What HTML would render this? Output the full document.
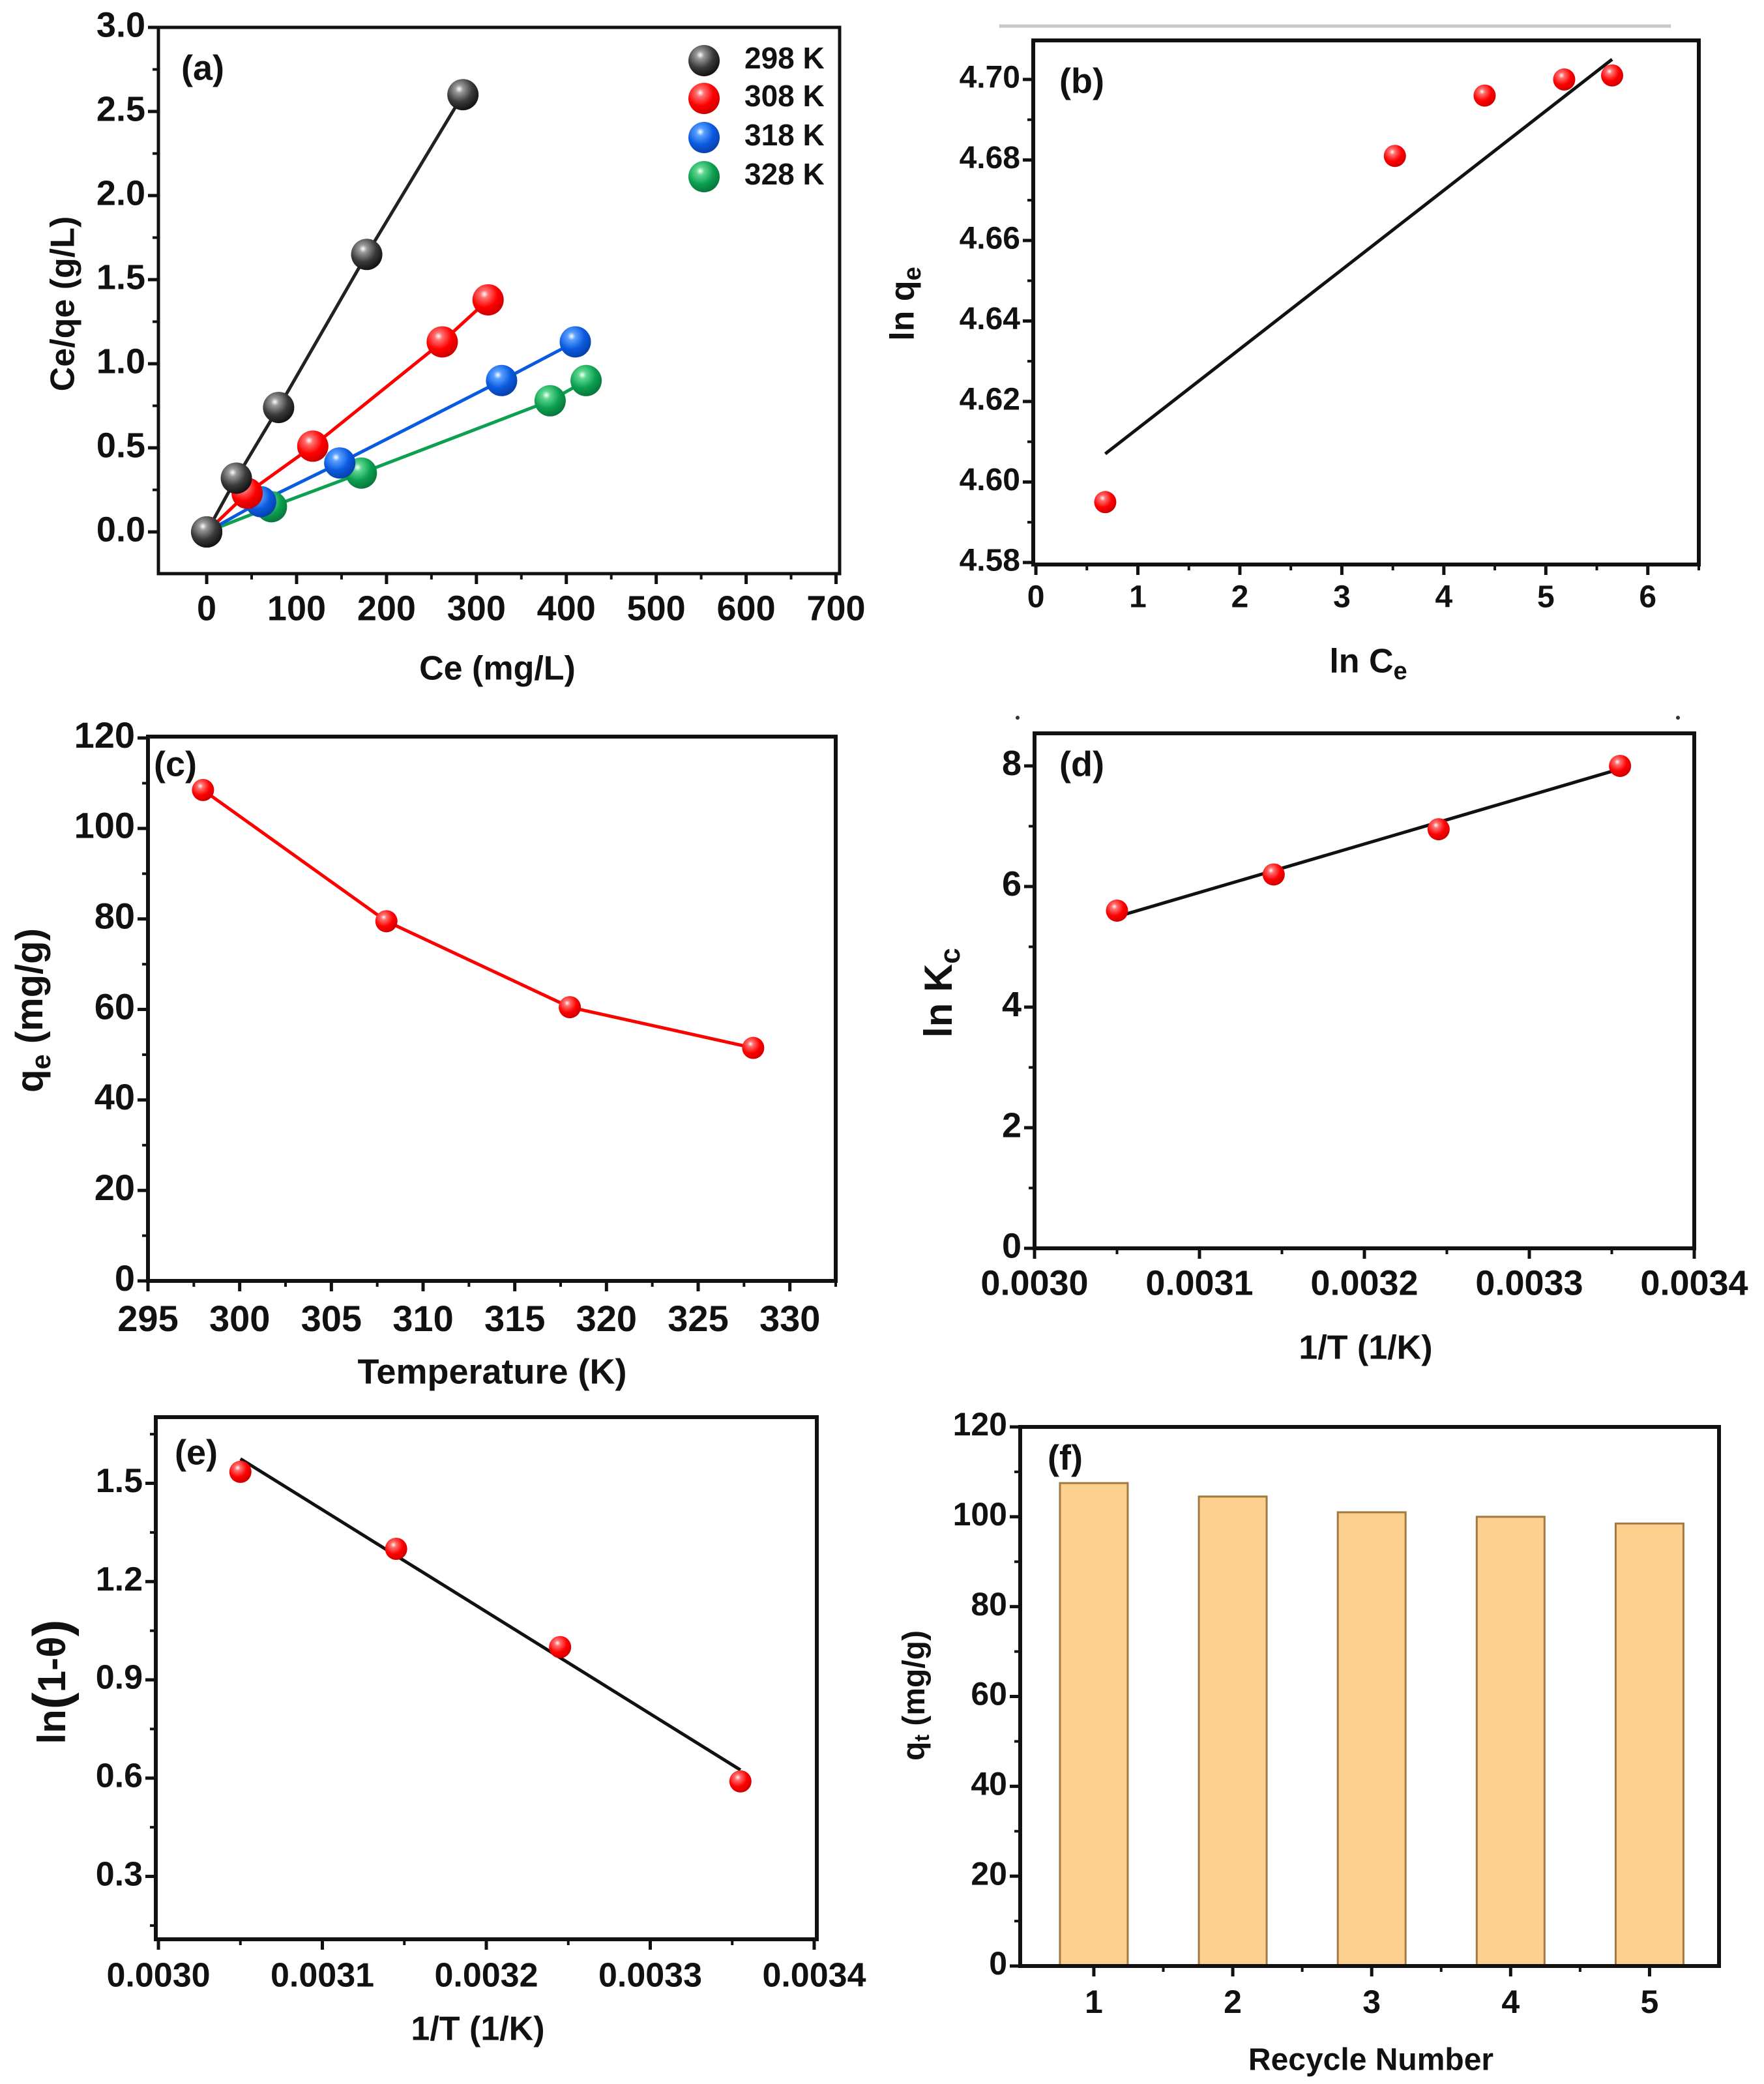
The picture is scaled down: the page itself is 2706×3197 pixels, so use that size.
<!DOCTYPE html>
<html><head><meta charset="utf-8">
<style>
html,body{margin:0;padding:0;background:#fff;}
svg{display:block;}
text{font-family:"Liberation Sans",Arial,sans-serif;font-weight:bold;fill:#111;}
</style></head>
<body>
<svg id="fig" xmlns="http://www.w3.org/2000/svg" width="2706" height="3197" viewBox="0 0 2706 3197">
<defs>
<radialGradient id="gBlack" cx="0.38" cy="0.32" r="0.7"><stop offset="0" stop-color="#fff"/><stop offset="0.18" stop-color="#9a9a9a"/><stop offset="0.6" stop-color="#3a3a3a"/><stop offset="1" stop-color="#111"/></radialGradient>
<radialGradient id="gRed" cx="0.38" cy="0.32" r="0.7"><stop offset="0" stop-color="#fff"/><stop offset="0.18" stop-color="#ff7070"/><stop offset="0.6" stop-color="#f00"/><stop offset="1" stop-color="#c00"/></radialGradient>
<radialGradient id="gBlue" cx="0.38" cy="0.32" r="0.7"><stop offset="0" stop-color="#fff"/><stop offset="0.18" stop-color="#5aa0ff"/><stop offset="0.6" stop-color="#0a5ae0"/><stop offset="1" stop-color="#0840a8"/></radialGradient>
<radialGradient id="gGreen" cx="0.38" cy="0.32" r="0.7"><stop offset="0" stop-color="#fff"/><stop offset="0.18" stop-color="#5fd890"/><stop offset="0.6" stop-color="#0ca050"/><stop offset="1" stop-color="#08753a"/></radialGradient>
</defs>
<line x1="1533" y1="40" x2="2563" y2="40" stroke="#c8c8c8" stroke-width="5"/>
<circle cx="1561" cy="1101" r="3" fill="#333"/>
<circle cx="2574" cy="1101" r="3" fill="#333"/>
</svg>
<script>
// ---------- Panel (a) data ----------
const aSeriesNames = ["298 K","308 K","318 K","328 K"];
const aX298 = [0,33,80,178,285];
const aY298 = [0,0.32,0.74,1.65,2.60];
const aX308 = [0,45,118,262,313];
const aY308 = [0,0.23,0.51,1.13,1.38];
const aX318 = [0,60,148,328,410];
const aY318 = [0,0.18,0.41,0.90,1.13];
const aX328 = [0,72,172,382,422];
const aY328 = [0,0.15,0.35,0.78,0.90];
const aXTicks = [0,100,200,300,400,500,600,700];
const aYTicks = [0.0,0.5,1.0,1.5,2.0,2.5,3.0];
// ---------- Panel (b) data ----------
const bX = [0.68,3.52,4.40,5.18,5.65];
const bY = [4.595,4.681,4.696,4.700,4.701];
const bFitX = [0.68,5.65];
const bFitY = [4.607,4.705];
const bXTicks = [0,1,2,3,4,5,6];
const bYTicks = [4.58,4.60,4.62,4.64,4.66,4.68,4.70];
// ---------- Panel (c) data ----------
const cX = [298,308,318,328];
const cY = [108.5,79.5,60.5,51.5];
const cXTicks = [295,300,305,310,315,320,325,330];
const cYTicks = [0,20,40,60,80,100,120];
// ---------- Panel (d) data ----------
const dX = [0.00305,0.003145,0.003245,0.003355];
const dY = [5.6,6.2,6.95,8.0];
const dFitX = [0.00305,0.003355];
const dFitY = [5.5,7.95];
const dXTicks = [0.0030,0.0031,0.0032,0.0033,0.0034];
const dYTicks = [0,2,4,6,8];
// ---------- Panel (e) data ----------
const eX = [0.00305,0.003145,0.003245,0.003355];
const eY = [1.535,1.30,1.00,0.59];
const eFitX = [0.00305,0.003355];
const eFitY = [1.575,0.625];
const eXTicks = [0.0030,0.0031,0.0032,0.0033,0.0034];
const eYTicks = [0.3,0.6,0.9,1.2,1.5];
// ---------- Panel (f) data ----------
const fCats = [1,2,3,4,5];
const fVals = [107.5,104.5,101,100,98.5];
const fYTicks = [0,20,40,60,80,100,120];

const NS="http://www.w3.org/2000/svg";
const svg=document.getElementById('fig');
function mk(tag,attrs,parent){const e=document.createElementNS(NS,tag);for(const k in attrs)e.setAttribute(k,attrs[k]);(parent||svg).appendChild(e);return e;}

function makeAxes(p){
  const g=mk('g',{});
  
  
  p.sx=v=>p.L+(v-p.x0)/(p.x1-p.x0)*(p.R-p.L);
  p.sy=v=>p.B-(v-p.y0)/(p.y1-p.y0)*(p.B-p.T);
  p.g=g;
  const tg=mk('g',{},g);
  
  
  p.xTicks.forEach((v,i)=>{
    const x=p.sx(v);
    mk('line',{x1:x,y1:p.B,x2:x,y2:p.B+16,stroke:'#111','stroke-width':5},tg);
    const t=mk('text',{x:x,y:p.xLabY,'font-size':p.fs,'text-anchor':'middle','dominant-baseline':'middle'},tg);
    t.textContent=p.xFmt(v);
    
    
  });
  if(p.xMinor){p.xMinor.forEach(v=>{const x=p.sx(v);mk('line',{x1:x,y1:p.B,x2:x,y2:p.B+9,stroke:'#111','stroke-width':4},tg);});}
  const yg=mk('g',{},g);
  
  
  p.yTicks.forEach(v=>{
    const y=p.sy(v);
    mk('line',{x1:p.L-16,y1:y,x2:p.L,y2:y,stroke:'#111','stroke-width':5},yg);
    const t=mk('text',{x:p.L-20,y:y,'font-size':p.fs,'text-anchor':'end','dominant-baseline':'middle'},yg);
    t.textContent=p.yFmt(v);
    
    
  });
  if(p.yMinor){p.yMinor.forEach(v=>{const y=p.sy(v);mk('line',{x1:p.L-9,y1:y,x2:p.L,y2:y,stroke:'#111','stroke-width':4},yg);});}
  const fr=mk('rect',{x:p.L,y:p.T,width:p.R-p.L,height:p.B-p.T,fill:'none',stroke:'#111','stroke-width':p.sw||6},g);
  
  
  const xt=mk('text',{x:p.xtX,y:p.xtY,'font-size':p.tfs||p.fs,'text-anchor':'middle','dominant-baseline':'middle'},g);
  xt.innerHTML=p.xTitle;
  
  
  const yt=mk('text',{x:0,y:0,'font-size':p.ytfs||p.tfs||p.fs,'text-anchor':'middle','dominant-baseline':'middle',transform:`translate(${p.ytX},${p.ytY}) rotate(-90)`},g);
  yt.innerHTML=p.yTitle;
  
  
  const pl=mk('text',{x:p.plX,y:p.plY,'font-size':p.plfs||54,'dominant-baseline':'middle'},g);
  pl.textContent=p.label;
  
  
  return p;
}
function range(a,b,s){const r=[];for(let v=a;v<=b+1e-12;v+=s)r.push(v);return r;}
function line(p,xs,ys,color,w,name){
  const pts=xs.map((x,i)=>p.sx(x)+','+p.sy(ys[i])).join(' ');
  const l=mk('polyline',{points:pts,fill:'none',stroke:color,'stroke-width':w},p.g);
  
  
}
function pts(p,xs,ys,grad,r,name){
  xs.forEach((x,i)=>{
    const c=mk('circle',{cx:p.sx(x),cy:p.sy(ys[i]),r:r,fill:`url(#${grad})`},p.g);
    
    
  });
}
const f1=v=>v.toFixed(1), f2=v=>v.toFixed(2), f0=v=>String(Math.round(v)), f4=v=>v.toFixed(4);

// Panel a
const pa=makeAxes({name:'panel-a',L:243,R:1288,T:42,B:880,x0:-53.7,x1:704,y0:-0.248,y1:3.0,
 xTicks:aXTicks,yTicks:aYTicks,xMinor:range(50,650,100),yMinor:range(0.25,2.75,0.5),xFmt:f0,yFmt:f1,
 fs:54,tfs:52,xLabY:937,xtX:763,xtY:1029,xTitle:'Ce (mg/L)',ytX:100,ytY:466,yTitle:'Ce/qe (g/L)',label:'(a)',plX:278,plY:108,sw:5});
line(pa,aX328,aY328,'#0ca050',5,'line-328k');
line(pa,aX318,aY318,'#0a5ae0',5,'line-318k');
line(pa,aX308,aY308,'#f00',5,'line-308k');
line(pa,aX298,aY298,'#222',5,'line-298k');
pts(pa,aX328,aY328,'gGreen',24,'point-328k');
pts(pa,aX318,aY318,'gBlue',24,'point-318k');
pts(pa,aX308,aY308,'gRed',24,'point-308k');
pts(pa,aX298,aY298,'gBlack',24,'point-298k');
const legGrads=['gBlack','gRed','gBlue','gGreen'];
const legYs=[93,151,211,271];
aSeriesNames.forEach((n,i)=>{
  const g=mk('g',{},pa.g);
  
  
  mk('circle',{cx:1080,cy:legYs[i],r:24,fill:`url(#${legGrads[i]})`},g);
  const t=mk('text',{x:1142,y:legYs[i],'font-size':46,'dominant-baseline':'middle'},g);
  t.textContent=n;
});

// Panel b
const pb=makeAxes({name:'panel-b',L:1585,R:2606,T:62,B:866,x0:-0.026,x1:6.5,y0:4.5795,y1:4.7097,
 xTicks:bXTicks,yTicks:bYTicks,xMinor:range(0.5,6.5,1),yMinor:range(4.59,4.70,0.02),xFmt:f0,yFmt:f2,
 fs:48,tfs:52,xLabY:919,xtX:2099,xtY:1018,xTitle:'ln C<tspan font-size="38" dy="14">e</tspan>',ytX:1388,ytY:466,yTitle:'ln q<tspan font-size="38" dy="14">e</tspan>',label:'(b)',plX:1625,plY:128});
line(pb,bFitX,bFitY,'#111',5,'fit-line');
pts(pb,bX,bY,'gRed',17,'data-point');

// Panel c
const pc=makeAxes({name:'panel-c',L:227,R:1282,T:1130,B:1965,x0:295,x1:332.5,y0:0,y1:120.3,
 xTicks:cXTicks,yTicks:cYTicks,xMinor:range(297.5,332.5,5),yMinor:range(10,110,20),xFmt:f0,yFmt:f0,
 fs:56,tfs:54,ytfs:58,xLabY:2027,xtX:755,xtY:2108,xTitle:'Temperature (K)',ytX:50,ytY:1550,yTitle:'q<tspan font-size="42" dy="16">e</tspan><tspan dy="-16"> (mg/g)</tspan>',label:'(c)',plX:236,plY:1176});
line(pc,cX,cY,'#f00',5,'qe-line');
pts(pc,cX,cY,'gRed',17,'data-point');

// Panel d
const pd=makeAxes({name:'panel-d',L:1587,R:2599,T:1125,B:1915,x0:0.0030,x1:0.0034,y0:0,y1:8.54,
 xTicks:dXTicks,yTicks:dYTicks,xMinor:range(0.00305,0.00335,0.0001),yMinor:range(1,7,2),xFmt:f4,yFmt:f0,
 fs:54,tfs:52,ytfs:60,xLabY:1972,xtX:2095,xtY:2071,xTitle:'1/T (1/K)',ytX:1444,ytY:1523,yTitle:'ln K<tspan font-size="44" dy="16">c</tspan>',label:'(d)',plX:1625,plY:1176});
line(pd,dFitX,dFitY,'#111',5,'fit-line');
pts(pd,dX,dY,'gRed',17,'data-point');

// Panel e
const pe=makeAxes({name:'panel-e',L:239,R:1253,T:2174,B:2975,x0:0.0029984,x1:0.0034016,y0:0.108,y1:1.702,
 xTicks:eXTicks,yTicks:eYTicks,xMinor:range(0.00305,0.00335,0.0001),yMinor:range(0.15,1.65,0.3),xFmt:f4,yFmt:f1,
 fs:52,tfs:52,ytfs:60,xLabY:3034,xtX:733,xtY:3116,xTitle:'1/T (1/K)',ytX:84,ytY:2580,yTitle:'ln<tspan font-size="78">(</tspan>1-θ<tspan font-size="78">)</tspan>',label:'(e)',plX:268,plY:2232});
line(pe,eFitX,eFitY,'#111',5,'fit-line');
pts(pe,eX,eY,'gRed',17,'data-point');

// Panel f
const pf=makeAxes({name:'panel-f',L:1565,R:2637,T:2189,B:3016,x0:0.47,x1:5.5,y0:0,y1:120,
 xTicks:fCats,yTicks:fYTicks,xMinor:range(1.5,4.5,1),yMinor:range(10,110,20),xFmt:f0,yFmt:f0,
 fs:50,tfs:48,ytfs:48,xLabY:3075,xtX:2103,xtY:3163,xTitle:'Recycle Number',ytX:1405,ytY:2601,yTitle:'q<tspan font-size="32" dy="12">t</tspan><tspan dy="-12"> (mg/g)</tspan>',label:'(f)',plX:1607,plY:2240});
fCats.forEach((c,i)=>{
  const x=pf.sx(c), y=pf.sy(fVals[i]);
  const r=mk('rect',{x:x-52,y:y,width:104,height:pf.B-y,fill:'#fdd08f',stroke:'#a07a40','stroke-width':3},pf.g);
  
  
});
mk('line',{x1:pf.L,y1:pf.B,x2:pf.R,y2:pf.B,stroke:'#111','stroke-width':6},pf.g);
</script>
</body></html>
